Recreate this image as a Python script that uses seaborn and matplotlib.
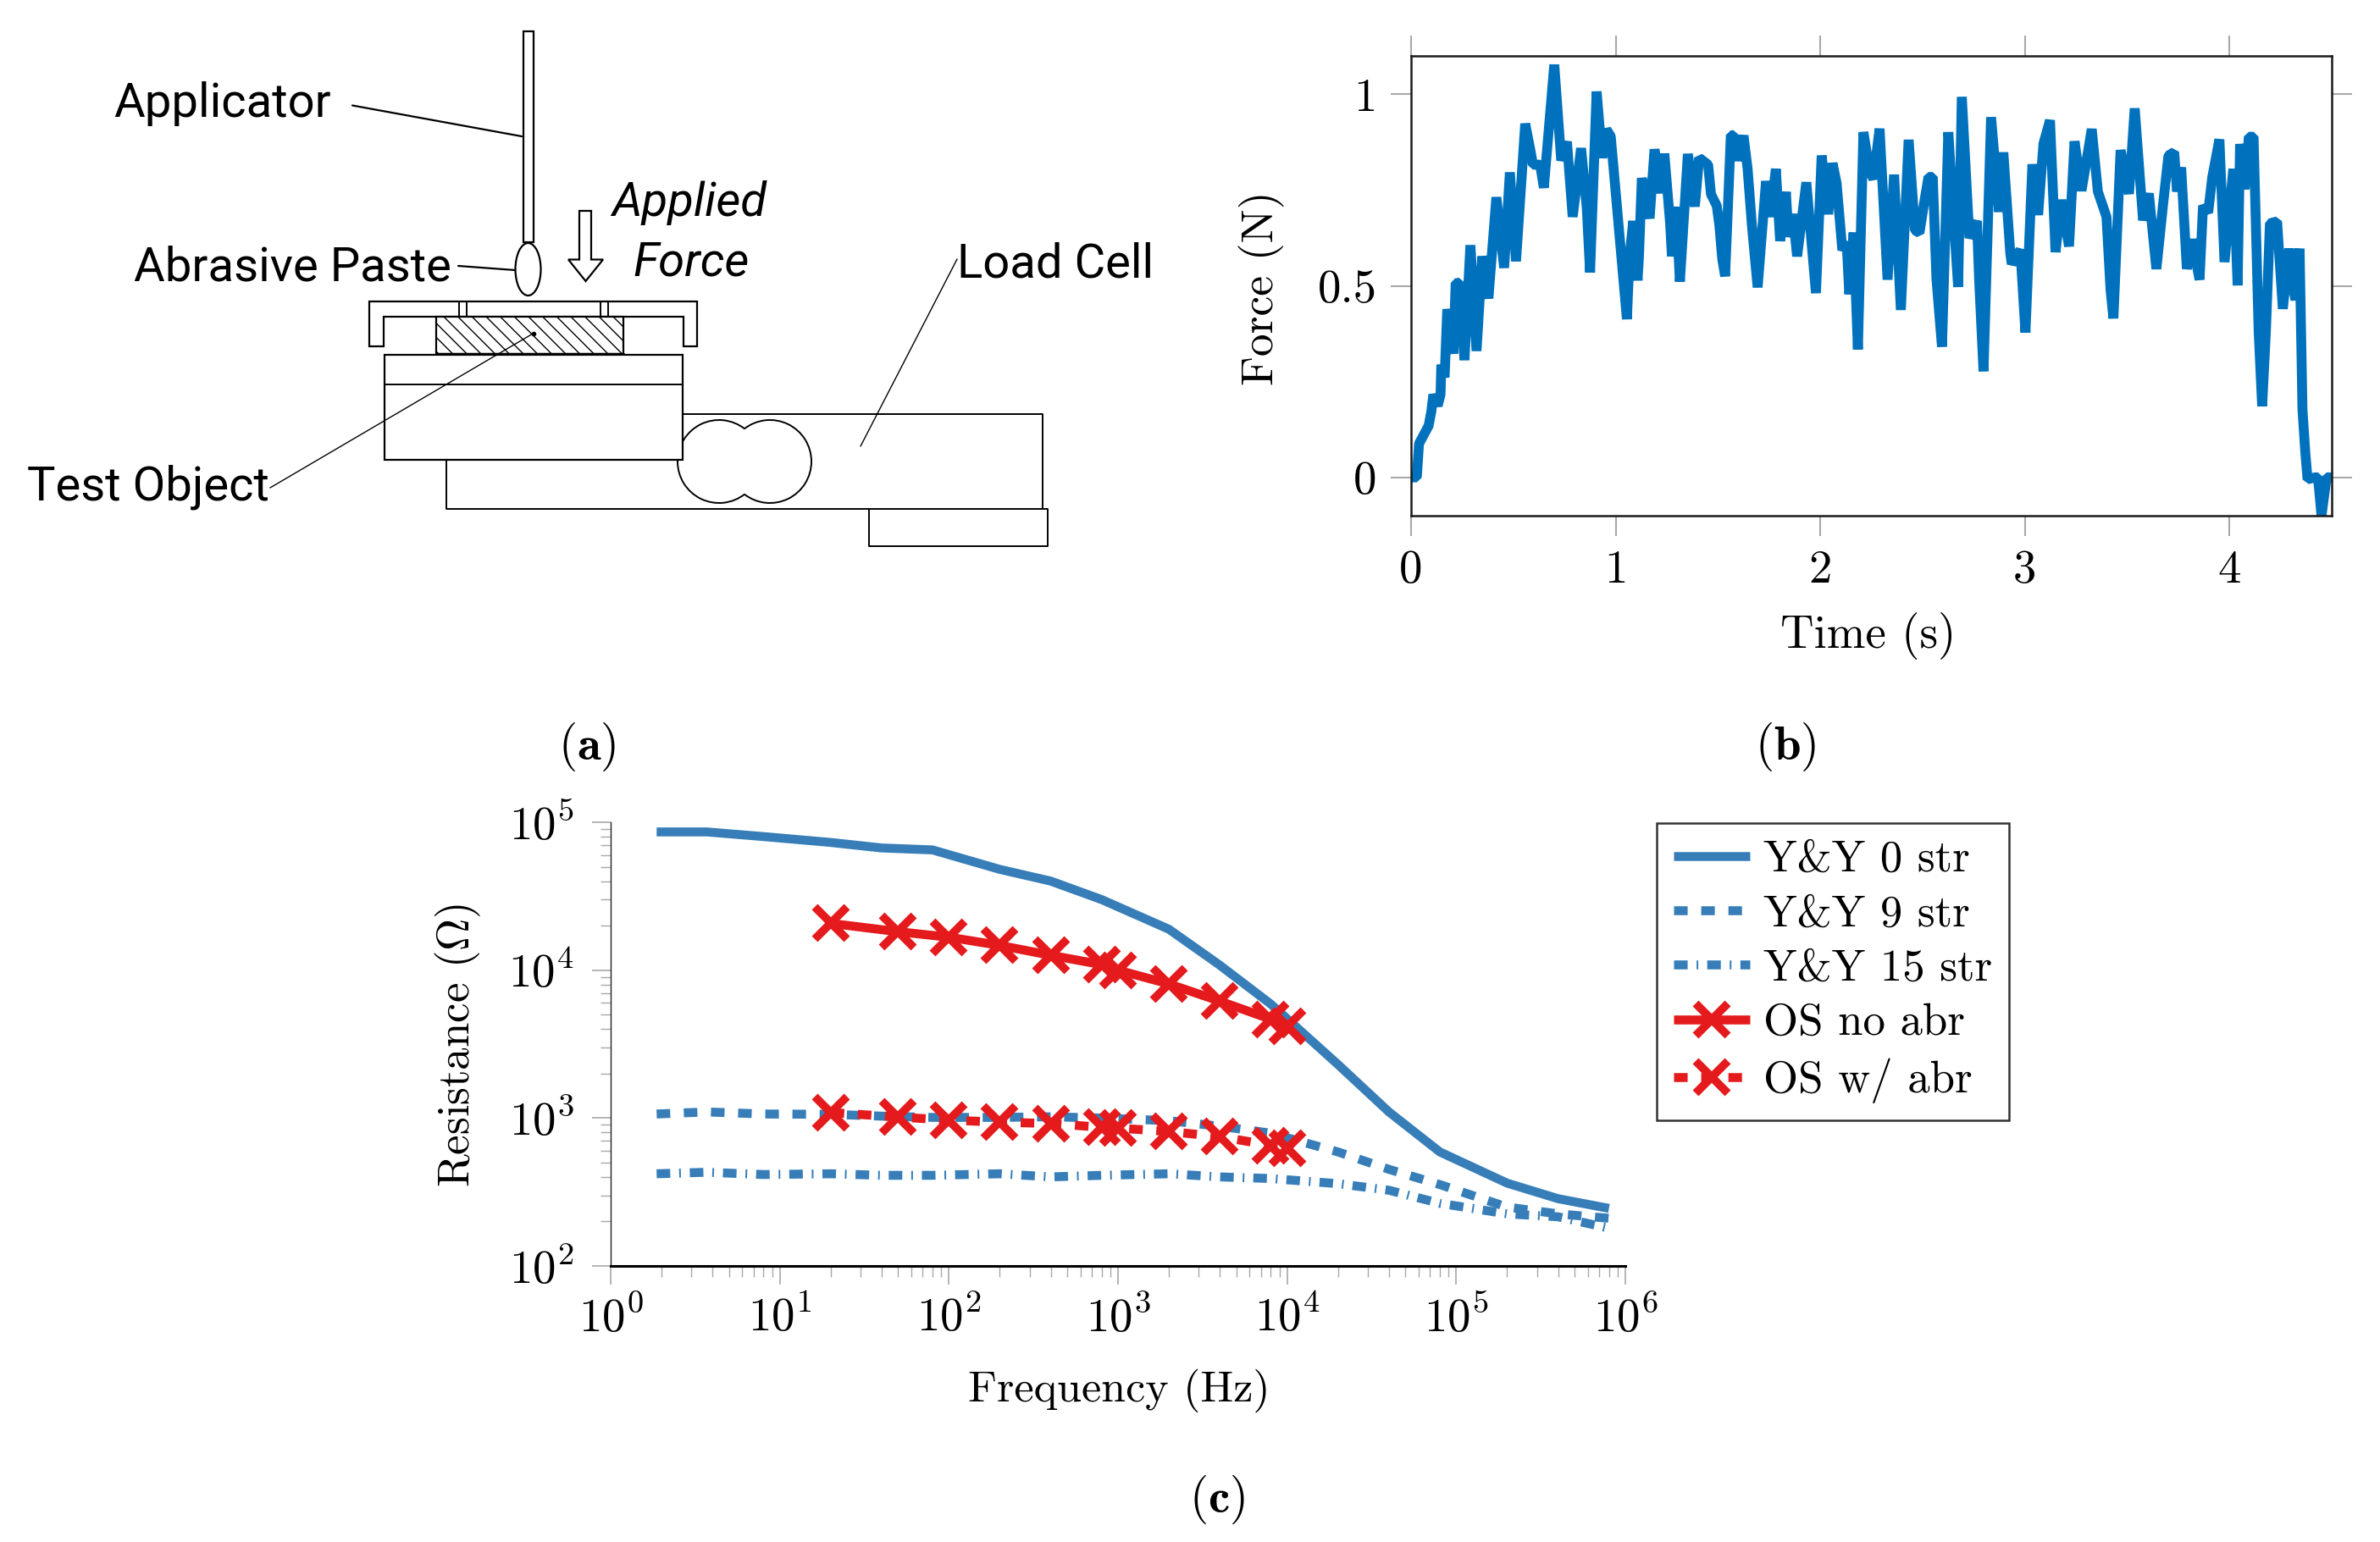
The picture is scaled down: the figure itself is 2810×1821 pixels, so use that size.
"""Abrasion test set-up: schematic, applied force trace and resistance spectra."""
import matplotlib
matplotlib.use("Agg")
import matplotlib.pyplot as plt
import numpy as np
import seaborn as sns
from matplotlib.patches import Arc, Ellipse, Polygon, Rectangle
from matplotlib.ticker import FixedLocator, LogFormatterMathtext, NullFormatter

W, H = 2810, 1821

# panel (b)
force_time = [
    0.000, 0.028, 0.039, 0.061, 0.086, 0.099, 0.109, 0.130, 0.144, 0.148, 0.164, 0.177, 0.207, 0.218, 0.237,
    0.261, 0.290, 0.320, 0.348, 0.378, 0.417, 0.455, 0.483, 0.513, 0.558, 0.582, 0.596, 0.631, 0.649, 0.700,
    0.734, 0.762, 0.790, 0.831, 0.859, 0.875, 0.907, 0.934, 0.955, 0.976,
    1.055, 1.068, 1.086, 1.107, 1.114, 1.128, 1.166, 1.190, 1.224, 1.238, 1.266, 1.275, 1.296, 1.314, 1.353,
    1.387, 1.408, 1.452, 1.466, 1.494, 1.507, 1.521, 1.535, 1.563, 1.576, 1.597, 1.625, 1.645, 1.666, 1.694,
    1.735, 1.756, 1.783, 1.804, 1.832, 1.845, 1.866, 1.887, 1.932, 1.979,
    2.007, 2.039, 2.060, 2.080, 2.108, 2.129, 2.142, 2.163, 2.184, 2.211, 2.242, 2.260, 2.290, 2.329, 2.361,
    2.394, 2.432, 2.463, 2.485, 2.508, 2.529, 2.550, 2.568, 2.595, 2.626, 2.649, 2.674, 2.692, 2.729, 2.766,
    2.777, 2.798, 2.835, 2.874, 2.895, 2.929, 2.936, 2.978,
    3.003, 3.037, 3.065, 3.091, 3.123, 3.150, 3.178, 3.216, 3.243, 3.277, 3.327, 3.357, 3.399, 3.419, 3.433,
    3.468, 3.509, 3.537, 3.578, 3.606, 3.643, 3.675, 3.702, 3.730, 3.744, 3.764, 3.792, 3.816, 3.854, 3.871,
    3.896, 3.916, 3.951, 3.976,
    4.019, 4.040, 4.052, 4.074, 4.095, 4.118, 4.143, 4.160, 4.178, 4.198, 4.233, 4.261, 4.292, 4.316, 4.323,
    4.343, 4.357, 4.371, 4.382, 4.419, 4.433, 4.450, 4.475, 4.500,
]
force_value = [
    0.000, 0.000, 0.088, 0.110, 0.135, 0.172, 0.216, 0.187, 0.216, 0.294, 0.261, 0.439, 0.323, 0.507, 0.508,
    0.306, 0.606, 0.330, 0.577, 0.467, 0.731, 0.547, 0.796, 0.564, 0.923, 0.857, 0.816, 0.816, 0.756, 1.077,
    0.827, 0.876, 0.680, 0.859, 0.702, 0.535, 1.007, 0.834, 0.908, 0.890,
    0.413, 0.577, 0.669, 0.514, 0.577, 0.781, 0.676, 0.856, 0.742, 0.845, 0.665, 0.577, 0.706, 0.511, 0.844,
    0.707, 0.834, 0.816, 0.739, 0.709, 0.658, 0.570, 0.525, 0.893, 0.893, 0.827, 0.892, 0.805, 0.658, 0.496,
    0.773, 0.680, 0.805, 0.617, 0.745, 0.628, 0.687, 0.577, 0.770, 0.481,
    0.840, 0.687, 0.820, 0.768, 0.593, 0.614, 0.478, 0.639, 0.334, 0.901, 0.798, 0.779, 0.910, 0.516, 0.790,
    0.437, 0.881, 0.645, 0.638, 0.717, 0.784, 0.784, 0.518, 0.341, 0.901, 0.702, 0.497, 0.993, 0.625, 0.669,
    0.511, 0.277, 0.940, 0.693, 0.848, 0.584, 0.557, 0.594,
    0.378, 0.817, 0.685, 0.871, 0.932, 0.588, 0.724, 0.603, 0.877, 0.748, 0.909, 0.746, 0.680, 0.489, 0.415,
    0.854, 0.740, 0.963, 0.671, 0.741, 0.544, 0.709, 0.840, 0.849, 0.746, 0.809, 0.544, 0.621, 0.516, 0.709,
    0.691, 0.783, 0.882, 0.562,
    0.805, 0.501, 0.870, 0.752, 0.889, 0.889, 0.378, 0.186, 0.378, 0.663, 0.668, 0.440, 0.597, 0.482, 0.463,
    0.597, 0.177, 0.064, -0.005, 0.000, 0.000, -0.100, 0.000, 0.000,
]

# panel (c)
yy_freq = [1.87, 3.7, 8, 20, 40, 80, 200, 400, 800, 2000, 4000, 8000, 2e4, 4e4, 8e4, 2e5, 4e5, 8e5]
yy_0str = [86000, 86000, 80000, 73000, 67000, 65000, 48000, 40000, 30000, 18900, 10800, 5900, 2300, 1100, 590, 363,
           285, 245]
yy_9str = [1065, 1100, 1065, 1060, 1030, 1010, 1010, 1020, 1000, 960, 880, 790, 590, 450, 355, 250, 225, 210]
yy_15str = [420, 430, 415, 420, 410, 410, 420, 400, 410, 420, 400, 390, 360, 325, 265, 225, 215, 180]
os_freq = [20, 50, 100, 200, 400, 800, 1000, 2000, 4000, 8000, 10000]
os_no_abr = [20700, 18200, 16700, 14700, 12600, 10900, 10000, 8070, 6170, 4660, 4190]
os_w_abr = [1090, 1016, 968, 938, 918, 866, 855, 811, 748, 654, 627]
decade_ticks = [1e0, 1e1, 1e2, 1e3, 1e4, 1e5, 1e6]
res_ticks = [1e2, 1e3, 1e4, 1e5]

BLUE = "#377eb8"
RED = "#e41a1c"
TICK_GREY = "#a8a8a8"

sns.set_theme(style="white")
plt.rcParams.update({
    "font.family": ["cmr10", "DejaVu Sans"],
    "mathtext.fontset": "cm",
    "axes.unicode_minus": False,
    "axes.formatter.use_mathtext": True,
    "hatch.linewidth": 1.0,
    "hatch.color": "black",
})


def axes_px(fig, left, top, right, bottom, **kw):
    return fig.add_axes([left / W, 1 - bottom / H, (right - left) / W, (bottom - top) / H], **kw)


def draw_schematic(ax):
    line = dict(color="black", lw=1.4, solid_capstyle="butt")
    box = dict(edgecolor="black", facecolor="white", lw=1.6)

    # applicator and swab
    ax.add_patch(Rectangle((618, 37), 12, 249, **box))
    ax.add_patch(Ellipse((623.5, 318), 30, 62, **box))

    # applied force arrow
    ax.add_patch(Polygon([(684, 249), (698, 249), (698, 306.5), (712, 306.5), (691.5, 332), (671, 306.5), (684, 306.5)],
                         closed=True, **box))

    # cover
    ax.add_patch(Polygon([(436, 408.5), (436, 355.5), (823, 355.5), (823, 408.5), (807, 408.5), (807, 373.5),
                          (453, 373.5), (453, 408.5)], closed=True, **box))
    for x in (541.5, 550.5, 709, 718):
        ax.plot([x, x], [356, 373.5], **line)

    # test object
    ax.add_patch(Rectangle((515, 373.5), 220.5, 44.5, edgecolor="black", facecolor="white", lw=1.6, hatch=r"\\"))
    ax.plot([515, 735.5], [418, 418], color="black", lw=2.4)

    # load cell
    ax.plot([806, 1230.5, 1230.5], [489, 489, 601], **line)
    ax.plot([526.5, 526.5, 1237, 1237, 1026, 1026], [542.5, 601, 601, 645, 645, 601], **line)
    ax.add_patch(Arc((849, 545), 98, 98, theta1=52, theta2=308, color="black", lw=1.4, zorder=2))
    ax.add_patch(Arc((909, 545), 98, 98, theta1=-128, theta2=128, color="black", lw=1.4, zorder=2))

    # mounting plate
    ax.add_patch(Rectangle((453.5, 419), 352.5, 123.5, zorder=3, **box))
    ax.plot([453.5, 806], [454, 454], zorder=4, **line)

    # leaders
    ax.plot([416, 616], [124.5, 161], color="black", lw=1.6)
    ax.plot([541, 608], [314, 319], color="black", lw=1.6)
    ax.plot([1130, 1016], [306, 527], color="black", lw=1.0)
    ax.plot([319, 630], [576, 393.5], color="black", lw=1.0, zorder=5)
    ax.plot([630], [393.5], "o", color="black", ms=3, zorder=5)

    labels = [("Applicator", 134, 138, "normal"), ("Abrasive Paste", 158, 332, "normal"),
              ("Test Object", 32, 590, "normal"), ("Load Cell", 1130, 327, "normal"),
              ("Applied", 722, 255, "italic"), ("Force", 747, 325, "italic")]
    for text, x, y, style in labels:
        ax.text(x, y, text, family="Roboto", fontsize=40.5, style=style, color="black", va="baseline", ha="left")


def draw_force(ax):
    sns.lineplot(x=force_time, y=force_value, estimator=None, sort=False, color="#0072bd", lw=8.4,
                 solid_joinstyle="bevel", solid_capstyle="butt", ax=ax)
    ax.set_xlim(0, 4.5)
    ax.set_ylim(-0.1, 1.1)
    ax.set_xticks([0, 1, 2, 3, 4], labels=["0", "1", "2", "3", "4"])
    ax.set_yticks([0, 0.5, 1], labels=["0", "0.5", "1"])
    ax.tick_params(direction="out", length=17, width=1.5, color=TICK_GREY, labelcolor="black", labelsize=39.5,
                   top=True, right=True, bottom=True, left=True, pad=12)
    for spine in ax.spines.values():
        spine.set_color("#1a1a1a")
        spine.set_linewidth(1.8)
    ax.set_xlabel("Time (s)", fontsize=39.5, color="black", va="center")
    ax.set_ylabel("Force (N)", fontsize=38.5, color="black", va="center")
    ax.xaxis.set_label_coords((2206 - 1666) / (2753 - 1666), (609 - 751) / (609 - 66))
    ax.yaxis.set_label_coords((1490 - 1666) / (2753 - 1666), (609 - 340) / (609 - 66))


def draw_resistance(ax):
    ax.set_xscale("log")
    ax.set_yscale("log")
    styles = [
        ("Y&Y 0 str", yy_freq, yy_0str, BLUE, "-", None),
        ("Y&Y 9 str", yy_freq, yy_9str, BLUE, (0, (1.52, 1.52)), None),
        ("Y&Y 15 str", yy_freq, yy_15str, BLUE, (0, (1.52, 1.0, 0.19, 1.0)), None),
        ("OS no abr", os_freq, os_no_abr, RED, "-", "x"),
        ("OS w/ abr", os_freq, os_w_abr, RED, (0, (1.52, 1.52)), "x"),
    ]
    for label, x, y, color, dash, marker in styles:
        sns.lineplot(x=x, y=y, estimator=None, sort=False, color=color, lw=7.6, linestyle=dash, marker=marker,
                     ms=27, mew=7, mec=color, label=label, ax=ax, clip_on=False,
                     zorder=3 if marker else 2, dash_capstyle="butt", solid_capstyle="butt", solid_joinstyle="miter")
    ax.set_xlim(1e0, 1e6)
    ax.set_ylim(1e2, 1e5)
    sns.despine(ax=ax, top=True, right=True)
    ax.spines["left"].set_color("#222222")
    ax.spines["left"].set_linewidth(1.0)
    ax.spines["bottom"].set_color("black")
    ax.spines["bottom"].set_linewidth(2.2)

    minor = np.arange(2, 10)
    ax.xaxis.set_major_locator(FixedLocator(decade_ticks))
    ax.yaxis.set_major_locator(FixedLocator(res_ticks))
    ax.xaxis.set_minor_locator(FixedLocator([d * m for d in decade_ticks[:-1] for m in minor]))
    ax.yaxis.set_minor_locator(FixedLocator([d * m for d in res_ticks[:-1] for m in minor]))
    ax.xaxis.set_major_formatter(LogFormatterMathtext())
    ax.yaxis.set_major_formatter(LogFormatterMathtext())
    ax.xaxis.set_minor_formatter(NullFormatter())
    ax.yaxis.set_minor_formatter(NullFormatter())
    ax.tick_params(which="major", direction="out", length=16, width=1.2, color=TICK_GREY, labelcolor="black",
                   labelsize=39.5, bottom=True, left=True, pad=10)
    ax.tick_params(axis="y", which="major", pad=15)
    ax.tick_params(which="minor", direction="out", length=9, width=1.0, color=TICK_GREY, bottom=True, left=True)

    ax.set_xlabel("Frequency (Hz)", fontsize=37.5, color="black", va="center")
    ax.set_ylabel(r"Resistance ($\Omega$)", fontsize=38, color="black", va="center")
    ax.xaxis.set_label_coords((1321 - 721) / (1919 - 721), (1495 - 1642) / (1495 - 971))
    ax.yaxis.set_label_coords((541 - 721) / (1919 - 721), (1495 - 1234) / (1495 - 971))

    legend = ax.legend(loc="upper left", bbox_to_anchor=(1956 / W, 1 - 972 / H), bbox_transform=ax.figure.transFigure,
                       borderaxespad=0, fontsize=38, frameon=True, fancybox=False, edgecolor="#333333",
                       framealpha=1, handlelength=1.7, handletextpad=0.3, labelspacing=0.33, borderpad=0.38)
    legend.get_frame().set_linewidth(1.8)
    for text in legend.get_texts():
        text.set_color("black")


fig = plt.figure(figsize=(W / 100, H / 100), dpi=100, facecolor="white")

ax_a = fig.add_axes([0, 0, 1, 1])
ax_a.set_xlim(0, W)
ax_a.set_ylim(H, 0)
ax_a.axis("off")
draw_schematic(ax_a)

ax_b = axes_px(fig, 1666, 66, 2753, 609)
draw_force(ax_b)

ax_c = axes_px(fig, 721, 971, 1919, 1495)
draw_resistance(ax_c)

for text, x, y in [(r"($\mathbf{a}$)", 693, 882), (r"($\mathbf{b}$)", 2108, 882), (r"($\mathbf{c}$)", 1437, 1771)]:
    fig.text(x / W, 1 - y / H, text, fontsize=41, color="black", ha="center", va="center")

fig.savefig("out.png", dpi=100)
